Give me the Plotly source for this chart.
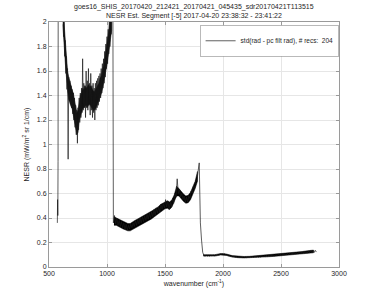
import numpy as np
import plotly.graph_objects as go

# ---- data ----
# leading spike segment near 575 cm-1
wn_lead = [572, 574, 576, 578]
nesr_lead = [0.36, 0.55, 0.42, 0.86]

# region 1: 580..1050 cm-1, step 5 (spectrum incl. noise)
wn1_start, wn1_step = 580, 5
nesr1 = [3.0, 3.0, 2.7, 2.5, 2.45, 2.2, 2.3, 2.0, 2.15, 1.88,
         2.02, 1.72, 1.85, 1.58, 1.72, 1.45, 1.62, 0.88, 1.55, 1.36,
         1.52, 1.33, 1.48, 1.30, 1.45, 1.25, 1.42, 1.20, 1.38, 1.14,
         1.32, 1.08, 1.28, 1.01, 1.30, 1.12, 1.38, 1.18, 1.42, 1.22,
         1.46, 1.26, 1.70, 1.28, 1.50, 1.30, 1.48, 1.22, 1.60, 1.30,
         1.52, 1.28, 1.62, 1.32, 1.50, 1.24, 1.58, 1.28, 1.48, 1.22,
         1.50, 1.26, 1.46, 1.20, 1.50, 1.28, 1.52, 1.30, 1.54, 1.32,
         1.56, 1.35, 1.58, 1.38, 1.62, 1.42, 1.66, 1.46, 1.70, 1.50,
         1.76, 1.55, 1.82, 1.62, 1.88, 1.66, 1.94, 1.74, 2.0, 1.80,
         2.1, 1.90, 2.2, 2.05, 2.4]

# region 2: 1055..1795 cm-1, step 10
wn2_start, wn2_step = 1055, 10
nesr2 = [0.36, 0.42, 0.35, 0.40, 0.34, 0.38, 0.33, 0.37, 0.32, 0.36,
         0.31, 0.35, 0.30, 0.34, 0.31, 0.35, 0.32, 0.36, 0.33, 0.38,
         0.34, 0.39, 0.35, 0.40, 0.36, 0.41, 0.37, 0.42, 0.38, 0.43,
         0.39, 0.44, 0.40, 0.45, 0.41, 0.47, 0.42, 0.48, 0.44, 0.49,
         0.45, 0.51, 0.47, 0.52, 0.48, 0.55, 0.49, 0.54, 0.47, 0.53,
         0.49, 0.56, 0.52, 0.60, 0.57, 0.72, 0.60, 0.63, 0.57, 0.60,
         0.55, 0.58, 0.53, 0.57, 0.53, 0.58, 0.56, 0.62, 0.60, 0.66,
         0.64, 0.71, 0.70, 0.78, 0.85]

# region 3: 1805..2805 cm-1, step 10
wn3_start, wn3_step = 1805, 10
nesr3 = [0.36, 0.22, 0.12, 0.095, 0.088, 0.096, 0.090, 0.095, 0.089, 0.096,
         0.091, 0.097, 0.092, 0.098, 0.094, 0.100, 0.098, 0.104, 0.103, 0.108,
         0.105, 0.108, 0.100, 0.099, 0.092, 0.092, 0.086, 0.089, 0.083, 0.087,
         0.081, 0.085, 0.079, 0.084, 0.078, 0.083, 0.077, 0.083, 0.077, 0.083,
         0.076, 0.084, 0.077, 0.085, 0.078, 0.086, 0.079, 0.087, 0.080, 0.088,
         0.081, 0.089, 0.082, 0.091, 0.083, 0.092, 0.085, 0.094, 0.086, 0.095,
         0.087, 0.097, 0.089, 0.099, 0.090, 0.101, 0.092, 0.103, 0.094, 0.105,
         0.095, 0.107, 0.097, 0.109, 0.098, 0.111, 0.100, 0.113, 0.101, 0.115,
         0.103, 0.117, 0.105, 0.119, 0.107, 0.121, 0.108, 0.123, 0.110, 0.126,
         0.111, 0.128, 0.113, 0.131, 0.115, 0.133, 0.117, 0.135, 0.118, 0.136,
         0.122]

# dense noise core (dark band)
core1_start, core1_step = 620, 10
core1_hi = [2.12, 1.98, 1.84, 1.70, 1.60, 1.55, 1.50, 1.48, 1.44, 1.42,
            1.36, 1.30, 1.26, 1.28, 1.34, 1.40, 1.42, 1.46, 1.45, 1.48,
            1.46, 1.47, 1.49, 1.47, 1.48, 1.45, 1.44, 1.43, 1.45, 1.46,
            1.49, 1.50, 1.54, 1.56, 1.61, 1.64, 1.70, 1.76, 1.81, 1.87,
            1.95, 2.03, 2.12]
core1_lo = [1.98, 1.82, 1.67, 1.53, 1.44, 1.37, 1.35, 1.31, 1.29, 1.24,
            1.19, 1.13, 1.08, 1.10, 1.19, 1.23, 1.26, 1.29, 1.30, 1.31,
            1.32, 1.30, 1.32, 1.33, 1.31, 1.30, 1.28, 1.28, 1.29, 1.31,
            1.33, 1.35, 1.38, 1.41, 1.45, 1.49, 1.54, 1.60, 1.65, 1.71,
            1.78, 1.86, 1.93]
core2_start, core2_step = 1060, 20
core2_hi = [0.41, 0.40, 0.39, 0.38, 0.37, 0.36, 0.355, 0.355, 0.37, 0.38,
            0.39, 0.40, 0.41, 0.42, 0.43, 0.445, 0.45, 0.465, 0.48, 0.49,
            0.51, 0.52, 0.535, 0.54, 0.53, 0.55, 0.59, 0.66, 0.64, 0.615,
            0.595, 0.58, 0.585, 0.61, 0.65, 0.70, 0.78]
core2_lo = [0.34, 0.34, 0.33, 0.32, 0.31, 0.30, 0.295, 0.295, 0.305, 0.32,
            0.33, 0.34, 0.35, 0.36, 0.37, 0.38, 0.39, 0.405, 0.42, 0.43,
            0.45, 0.46, 0.475, 0.48, 0.47, 0.49, 0.53, 0.58, 0.58, 0.555,
            0.535, 0.52, 0.525, 0.55, 0.59, 0.64, 0.70]
core3_start, core3_step = 1830, 50
core3_hi = [0.101, 0.099, 0.101, 0.110, 0.106, 0.093, 0.088, 0.086, 0.087, 0.091,
            0.094, 0.097, 0.102, 0.106, 0.112, 0.116, 0.122, 0.126, 0.133, 0.138]
core3_lo = [0.089, 0.087, 0.089, 0.098, 0.094, 0.081, 0.076, 0.074, 0.075, 0.078,
            0.080, 0.083, 0.086, 0.090, 0.094, 0.098, 0.102, 0.106, 0.111, 0.116]

x_ticks = [500, 1000, 1500, 2000, 2500, 3000]
y_ticks = [0, 0.2, 0.4, 0.6, 0.8, 1, 1.2, 1.4, 1.6, 1.8, 2]

title_l1 = "goes16_SHIS_20170420_212421_20170421_045435_sdr20170421T113515"
title_l2 = "NESR Est. Segment [-5] 2017-04-20 23:38:32 - 23:41:22"
legend_name = "std(rad - pc filt rad), # recs:  204"

# ---- assemble ----
wn1 = wn1_start + wn1_step * np.arange(len(nesr1))
wn2 = wn2_start + wn2_step * np.arange(len(nesr2))
wn3 = wn3_start + wn3_step * np.arange(len(nesr3))
wn = np.concatenate([wn_lead, wn1, wn2, wn3])
nesr = np.concatenate([nesr_lead, nesr1, nesr2, nesr3])

FONT = "Liberation Sans, Arial, sans-serif"
AX = "#9a9a9a"
TXT = "#262626"

fig = go.Figure()

def add_core(start, step, hi, lo):
    x = start + step * np.arange(len(hi))
    fig.add_trace(go.Scatter(x=np.concatenate([x, x[::-1]]),
                             y=np.concatenate([hi, lo[::-1]]),
                             fill="toself", fillcolor="black", mode="lines",
                             line=dict(color="black", width=0.5),
                             showlegend=False, hoverinfo="skip"))

add_core(core1_start, core1_step, np.array(core1_hi), np.array(core1_lo))
add_core(core2_start, core2_step, np.array(core2_hi), np.array(core2_lo))
add_core(core3_start, core3_step, np.array(core3_hi), np.array(core3_lo))

fig.add_trace(go.Scatter(x=wn, y=nesr, mode="lines", name=legend_name,
                         line=dict(color="#1a1a1a", width=0.7, simplify=False),
                         showlegend=True))

# two-line title as annotations above the axes
fig.add_annotation(text=title_l1, xref="paper", yref="paper", x=0.5, y=1.061,
                   xanchor="center", yanchor="middle", showarrow=False,
                   font=dict(size=7, color=TXT))
fig.add_annotation(text=title_l2, xref="paper", yref="paper", x=0.5, y=1.0245,
                   xanchor="center", yanchor="middle", showarrow=False,
                   font=dict(size=7, color=TXT))

fig.update_layout(
    width=375, height=301,
    margin=dict(l=49, r=36, t=22, b=34),
    paper_bgcolor="white", plot_bgcolor="white",
    font=dict(family=FONT, size=7, color=TXT),
    showlegend=True,
    legend=dict(x=1, xanchor="right", y=0.985, yanchor="top",
                bgcolor="white", bordercolor="#8a8a8a", borderwidth=0.6,
                font=dict(size=6.5, color=TXT), itemwidth=30,
                tracegroupgap=0),
    xaxis=dict(range=[500, 3000], tickvals=x_ticks, ticks="inside", ticklen=3,
               tickcolor=AX, showline=True, linecolor=AX, linewidth=1, mirror="ticks",
               showgrid=True, gridcolor="#e6e6e6", gridwidth=1, zeroline=False,
               title=dict(text="wavenumber (cm<sup>-1</sup>)", standoff=4,
                          font=dict(size=7)),
               tickfont=dict(size=7)),
    yaxis=dict(range=[0, 2], tickvals=y_ticks, ticks="inside", ticklen=3,
               tickcolor=AX, showline=True, linecolor=AX, linewidth=1, mirror="ticks",
               showgrid=True, gridcolor="#e6e6e6", gridwidth=1, zeroline=False,
               title=dict(text="NESR (mW/m<sup>2</sup> sr 1/cm)", standoff=6,
                          font=dict(size=7)),
               tickfont=dict(size=7)),
)

fig.write_html("out.html")
